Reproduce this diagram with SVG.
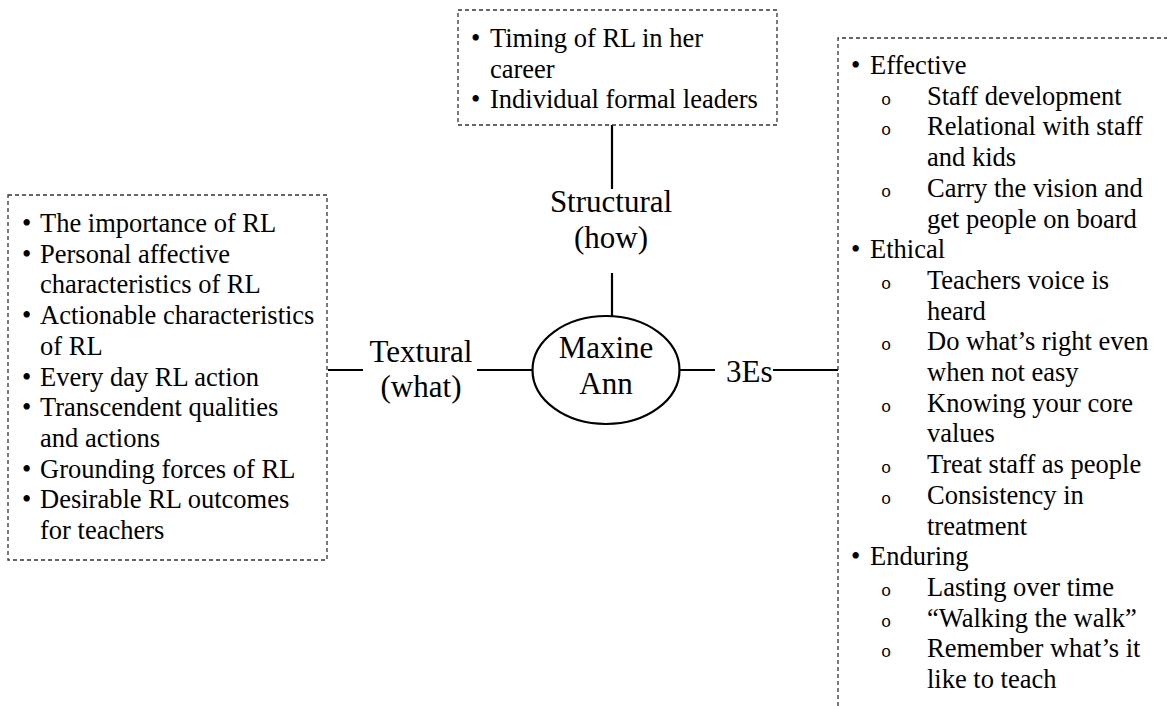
<svg xmlns="http://www.w3.org/2000/svg" width="1167" height="706" viewBox="0 0 1167 706">
  <style>
    .box { fill: #ffffff; stroke: #333333; stroke-width: 1.3; stroke-dasharray: 4 3; }
    .link { stroke: #000000; stroke-width: 2.2; fill: none; }
    .oval { fill: #ffffff; stroke: #000000; stroke-width: 2.2; }
    .item { font-family: "Liberation Serif", "Times New Roman", serif; font-size: 26.5px; fill: #000000; }
    .label { font-family: "Liberation Serif", "Times New Roman", serif; font-size: 31px; fill: #000000; }
    .sub { font-family: "Liberation Mono", "Courier New", monospace; font-size: 17px; fill: #000000; }
  </style>
  <rect width="1167" height="706" fill="#ffffff"/>

  <!-- connectors -->
  <g id="connectors">
    <line class="link" x1="612" y1="125" x2="612" y2="189"/>
    <line class="link" x1="612" y1="273" x2="612" y2="316"/>
    <line class="link" x1="328" y1="370" x2="363" y2="370"/>
    <line class="link" x1="477" y1="370" x2="533" y2="370"/>
    <line class="link" x1="680" y1="370" x2="715" y2="370"/>
    <line class="link" x1="773" y1="370" x2="838" y2="370"/>
  </g>

  <!-- central node -->
  <g id="node-center">
    <ellipse class="oval" cx="606" cy="370" rx="73.5" ry="54"/>
    <text class="label" x="606" y="358" text-anchor="middle">Maxine</text>
    <text class="label" x="606" y="394" text-anchor="middle">Ann</text>
  </g>

  <!-- branch labels -->
  <g id="label-structural">
    <text class="label" x="611" y="212" text-anchor="middle">Structural</text>
    <text class="label" x="611" y="248" text-anchor="middle">(how)</text>
  </g>
  <g id="label-textural">
    <text class="label" x="421" y="362" text-anchor="middle">Textural</text>
    <text class="label" x="421" y="397" text-anchor="middle">(what)</text>
  </g>
  <g id="label-3es">
    <text class="label" x="726" y="382">3Es</text>
  </g>

  <!-- structural box -->
  <g id="node-structural">
    <rect class="box" x="458" y="10" width="319" height="115"/>
    <text class="item" x="471" y="47">•</text>
    <text class="item" x="490" y="47">Timing of RL in her</text>
    <text class="item" x="490" y="78">career</text>
    <text class="item" x="471" y="108">•</text>
    <text class="item" x="490" y="108">Individual formal leaders</text>
  </g>

  <!-- textural box -->
  <g id="node-textural">
    <rect class="box" x="8" y="195" width="319" height="365"/>
    <g class="item">
      <text x="22" y="232">•</text><text x="40" y="232">The importance of RL</text>
      <text x="22" y="262.7">•</text><text x="40" y="262.7">Personal affective</text>
      <text x="40" y="293.4">characteristics of RL</text>
      <text x="22" y="324.1">•</text><text x="40" y="324.1">Actionable characteristics</text>
      <text x="40" y="354.8">of RL</text>
      <text x="22" y="385.5">•</text><text x="40" y="385.5">Every day RL action</text>
      <text x="22" y="416.2">•</text><text x="40" y="416.2">Transcendent qualities</text>
      <text x="40" y="446.9">and actions</text>
      <text x="22" y="477.6">•</text><text x="40" y="477.6">Grounding forces of RL</text>
      <text x="22" y="508.3">•</text><text x="40" y="508.3">Desirable RL outcomes</text>
      <text x="40" y="539">for teachers</text>
    </g>
  </g>

  <!-- 3Es box (open to the right and bottom) -->
  <g id="node-3es">
    <path class="box" d="M838 706 V38 H1167" fill="none"/>
    <g class="item">
      <text x="851" y="74">•</text><text x="870" y="74">Effective</text>
      <text x="927" y="104.7">Staff development</text>
      <text x="927" y="135.4">Relational with staff</text>
      <text x="927" y="166.1">and kids</text>
      <text x="927" y="196.8">Carry the vision and</text>
      <text x="927" y="227.5">get people on board</text>
      <text x="851" y="258.2">•</text><text x="870" y="258.2">Ethical</text>
      <text x="927" y="288.9">Teachers voice is</text>
      <text x="927" y="319.6">heard</text>
      <text x="927" y="350.3">Do what’s right even</text>
      <text x="927" y="381">when not easy</text>
      <text x="927" y="411.7">Knowing your core</text>
      <text x="927" y="442.4">values</text>
      <text x="927" y="473.1">Treat staff as people</text>
      <text x="927" y="503.8">Consistency in</text>
      <text x="927" y="534.5">treatment</text>
      <text x="851" y="565.2">•</text><text x="870" y="565.2">Enduring</text>
      <text x="927" y="595.9">Lasting over time</text>
      <text x="927" y="626.6">“Walking the walk”</text>
      <text x="927" y="657.3">Remember what’s it</text>
      <text x="927" y="688">like to teach</text>
    </g>
    <g class="sub">
      <text x="881" y="104.7">o</text>
      <text x="881" y="135.4">o</text>
      <text x="881" y="196.8">o</text>
      <text x="881" y="288.9">o</text>
      <text x="881" y="350.3">o</text>
      <text x="881" y="411.7">o</text>
      <text x="881" y="473.1">o</text>
      <text x="881" y="503.8">o</text>
      <text x="881" y="595.9">o</text>
      <text x="881" y="626.6">o</text>
      <text x="881" y="657.3">o</text>
    </g>
  </g>
</svg>
